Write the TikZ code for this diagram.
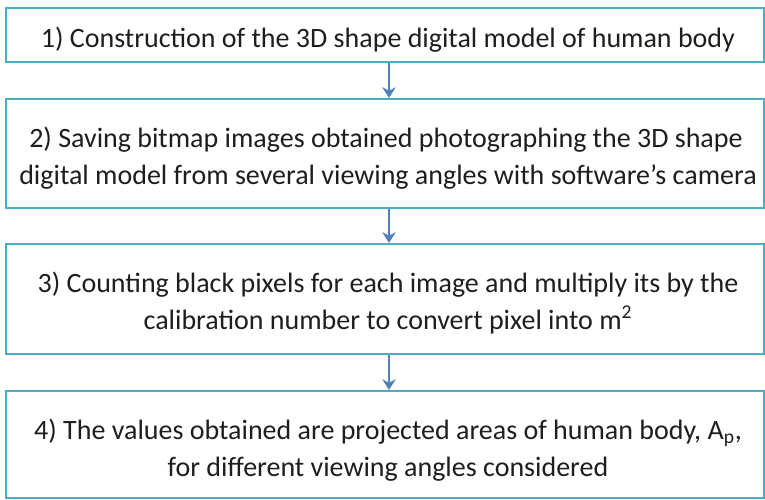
\documentclass[tikz,border=0pt]{standalone}
\usepackage{fontspec}
\setmainfont{Carlito}
\usetikzlibrary{arrows.meta}
\definecolor{boxblue}{RGB}{75,172,198}
\definecolor{arrowblue}{RGB}{79,129,189}
\definecolor{txt}{RGB}{30,30,30}
\begin{document}
\begin{tikzpicture}[x=0.75pt,y=-0.75pt,
  stepbox/.style={draw=boxblue,line width=1.6pt,fill=white,minimum width=568.5pt,inner sep=0pt},
  steptext/.style={anchor=base,inner sep=0pt,text=txt,font=\fontsize{21}{25}\selectfont},
  flow/.style={draw=arrowblue,line width=1.6pt,-{Stealth[length=8pt,width=10pt]}}]
\useasboundingbox (0,0) rectangle (765,500);
\node[stepbox,minimum height=40.5pt] (s1) at (385,35) {};
\node[stepbox,minimum height=81.75pt] (s2) at (385,153.5) {};
\node[stepbox,minimum height=82.5pt] (s3) at (385,299) {};
\node[stepbox,minimum height=80.25pt] (s4) at (385,444.5) {};
\node[steptext] (t1) at (388,47) {1) Construction of the 3D shape digital model of human body};
\node[steptext] (t2a) at (386,147) {2) Saving bitmap images obtained photographing the 3D shape};
\node[steptext] (t2b) at (388,184) {digital model from several viewing angles with software's camera};
\node[steptext] (t3a) at (388,292) {3) Counting black pixels for each image and multiply its by the};
\node[steptext] (t3b) at (388,329) {calibration number to convert pixel into m\textsuperscript{2}};
\node[steptext] (t4a) at (388,439) {4) The values obtained are projected areas of human body, A\textsubscript{p},};
\node[steptext] (t4b) at (388,476) {for different viewing angles considered};
\draw[flow] (s1.south -| 389,0) -- (s2.north -| 389,0);
\draw[flow] (s2.south -| 389,0) -- (s3.north -| 389,0);
\draw[flow] (s3.south -| 389,0) -- (s4.north -| 389,0);
\end{tikzpicture}
\end{document}
